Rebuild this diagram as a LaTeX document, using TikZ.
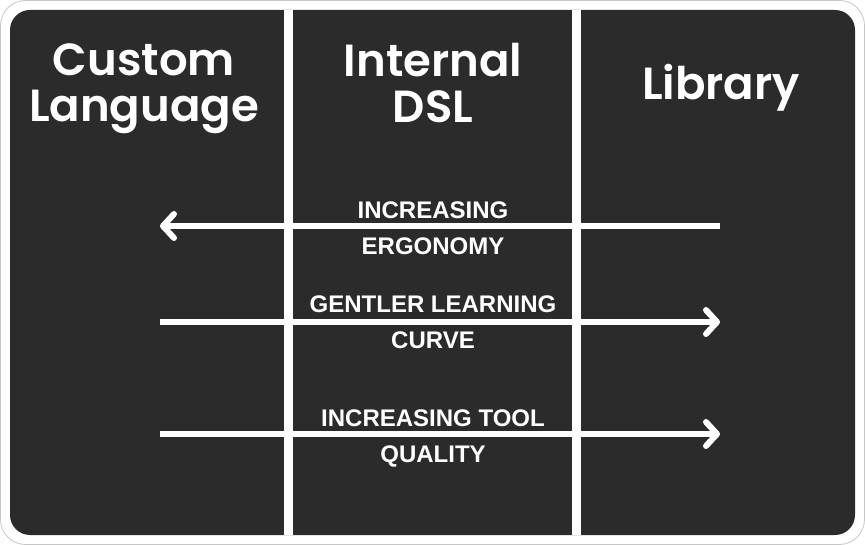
\documentclass[tikz,border=0pt]{standalone}
\usepackage{fontspec}
\setmainfont{Liberation Sans}
\newfontfamily\hdr{Poppins}[UprightFont=* SemiBold]
\usetikzlibrary{arrows.meta}
\definecolor{panel}{HTML}{2B2B2B}
\tikzset{
  hdrtext/.style={text=white, align=center, font=\hdr\fontsize{45}{46}\selectfont, inner sep=0pt},
  lbltext/.style={text=white, align=center, font=\bfseries\fontsize{24}{36}\selectfont, inner sep=0pt},
  arr/.style={white, line width=6pt, -{Straight Barb[length=11pt, width=24pt, line cap=round, line join=round]}}
}
\begin{document}
\begin{tikzpicture}[x=1pt,y=-1pt]
\useasboundingbox (0,0) rectangle (865,545);
\draw[gray!45, fill=white, rounded corners=25pt, line width=0.8pt] (0.5,0.5) rectangle (864.5,544.5);
\fill[panel, rounded corners=20pt] (10,10) rectangle (855,535);
\fill[white] (284,10) rectangle (293,535);
\fill[white] (572,10) rectangle (581,535);

\node[hdrtext] (h1) at (144,89) {Custom\\Language};
\node[hdrtext] (h2) at (433,83) {Internal\\DSL};
\node[hdrtext] (h3) at (721,88) {Library};

\coordinate (a1s) at (720,226);
\coordinate (a1e) at (160,226);
\coordinate (a2s) at (160,322);
\coordinate (a2e) at (720,322);
\coordinate (a3s) at (160,434);
\coordinate (a3e) at (720,434);
\draw[arr] (a1s) -- (a1e);
\draw[arr] (a2s) -- (a2e);
\draw[arr] (a3s) -- (a3e);

\node[lbltext] (t1) at (433,228) {INCREASING\\ERGONOMY};
\node[lbltext] (t2) at (433,322) {GENTLER LEARNING\\CURVE};
\node[lbltext] (t3) at (433,438) {INCREASING TOOL\\QUALITY};
\end{tikzpicture}
\end{document}
